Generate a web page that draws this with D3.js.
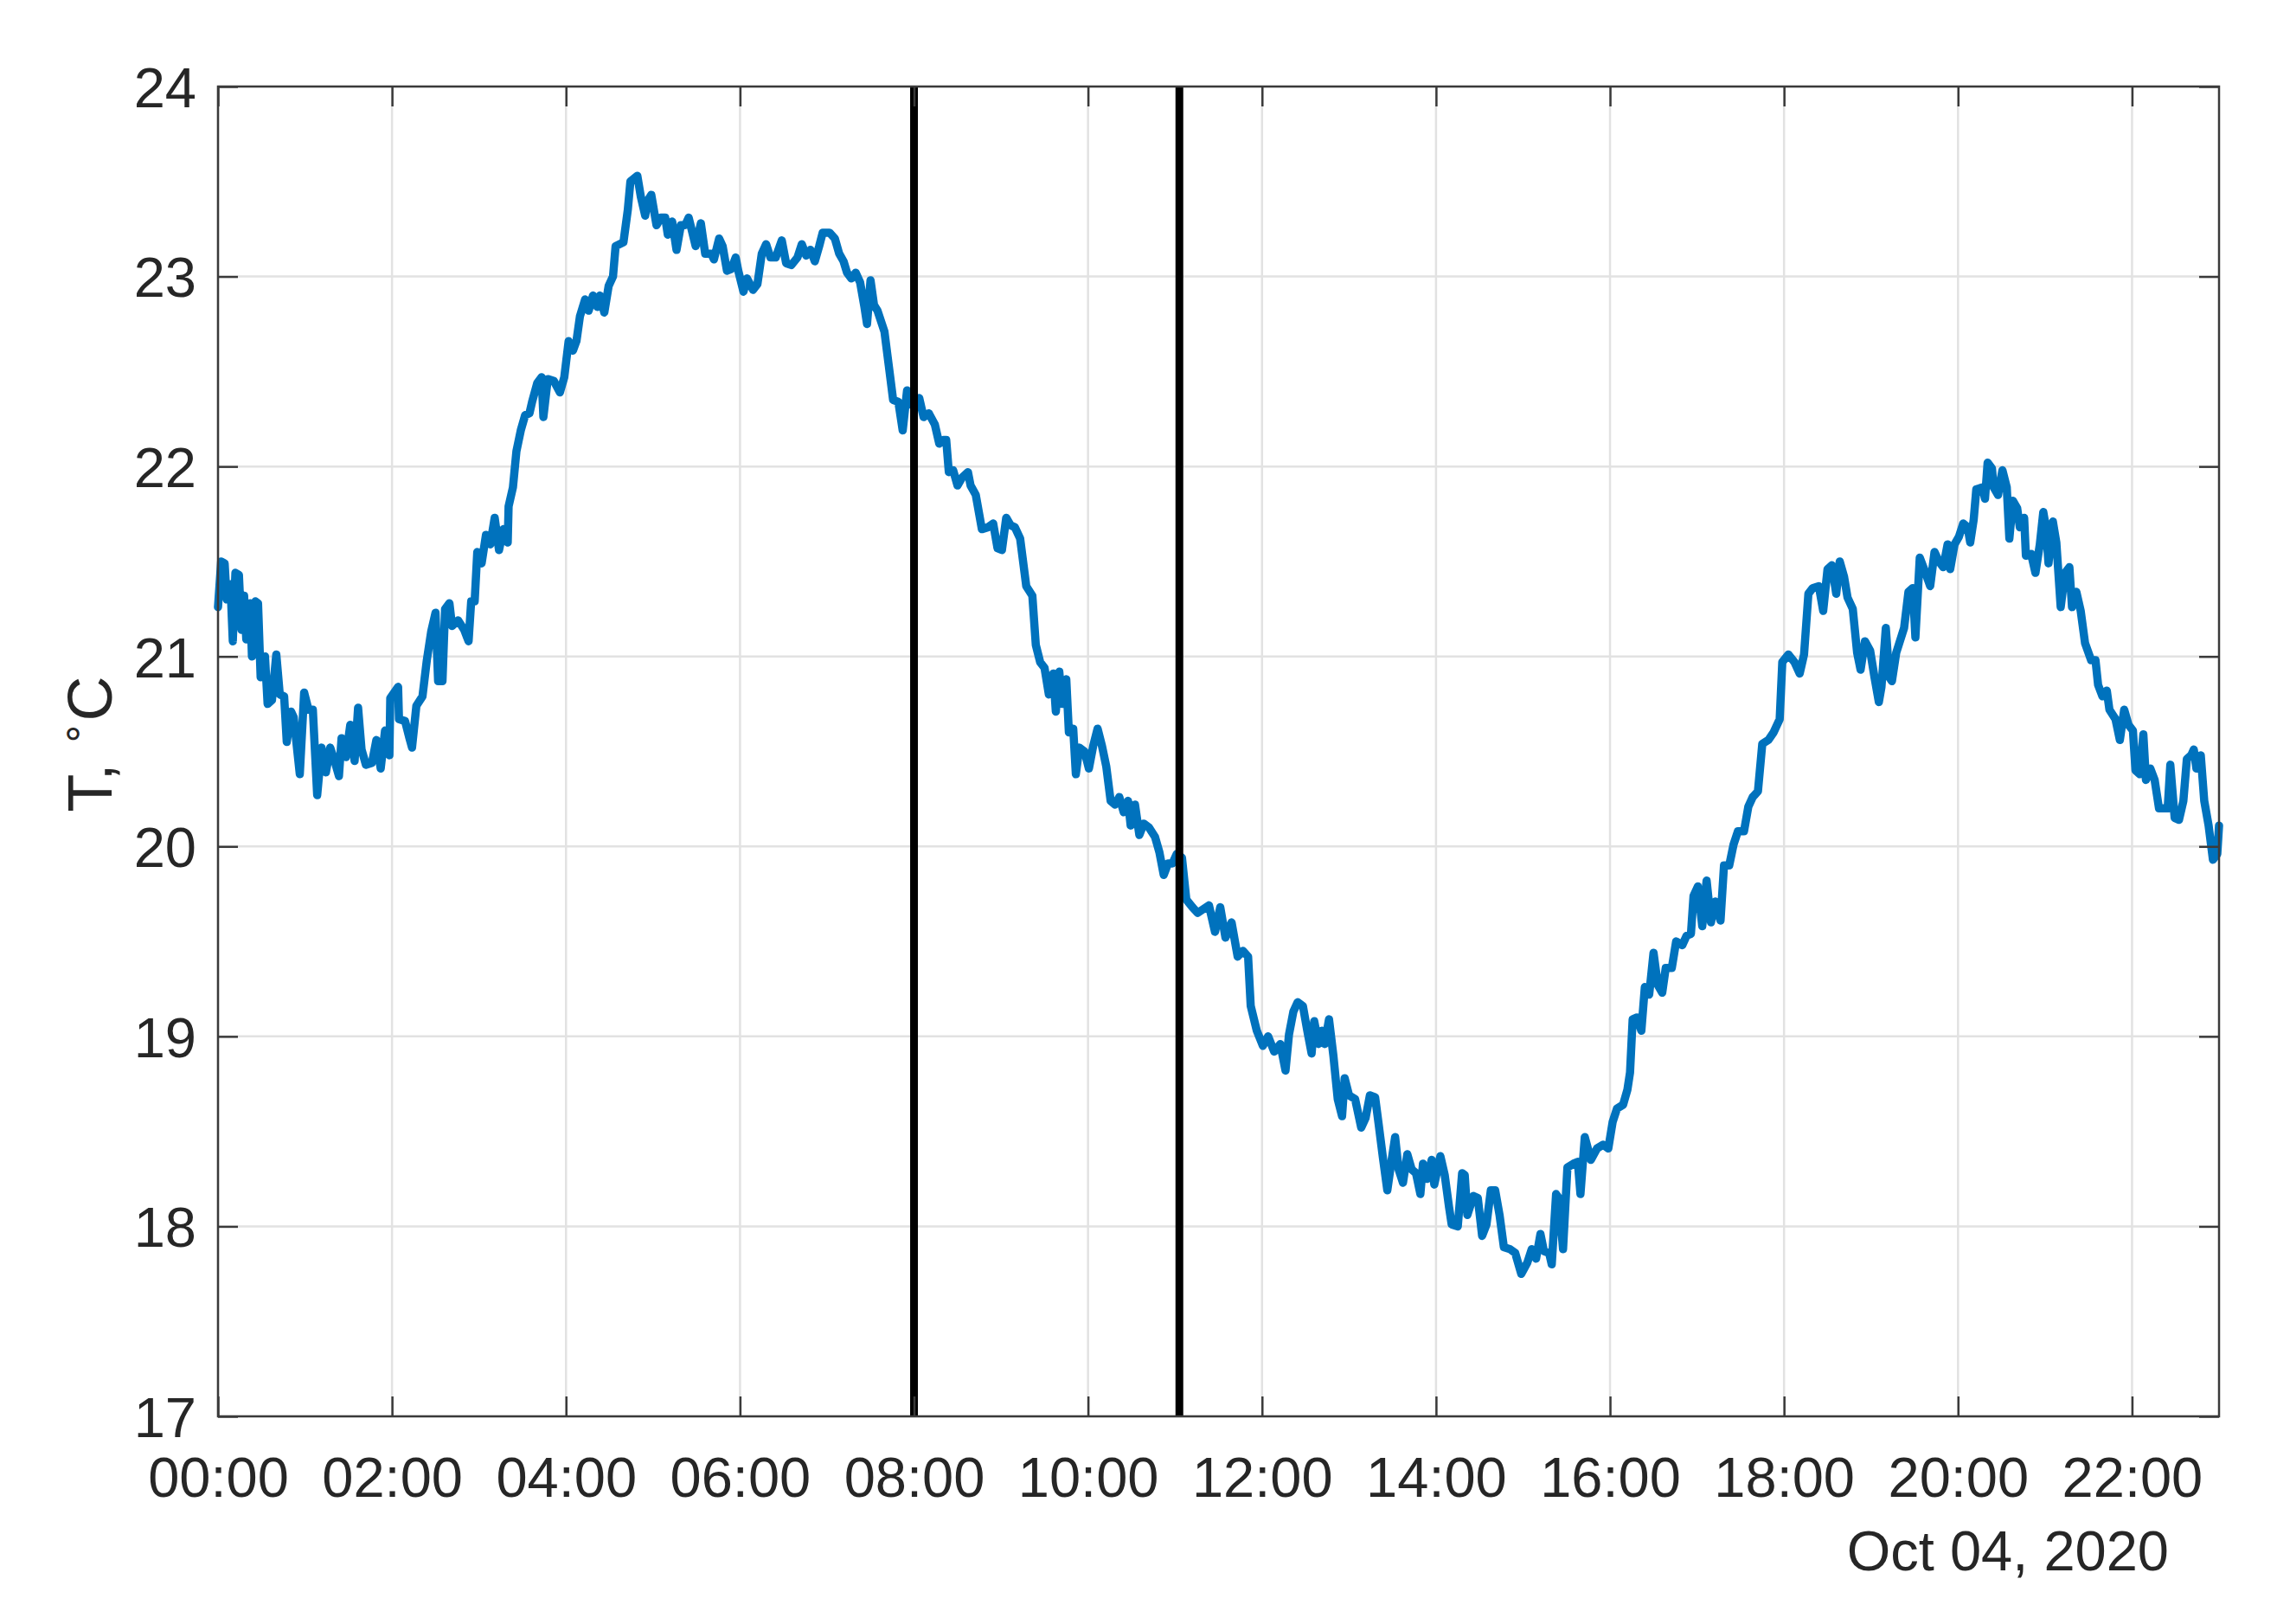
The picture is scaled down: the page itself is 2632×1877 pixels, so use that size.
<!DOCTYPE html>
<html lang="en">
<meta charset="utf-8">

<style>
body {
  margin: 0;
  background: #fff;
}
text {
  font-family: "Liberation Sans", Arial, Helvetica, sans-serif;
  fill: #262626;
}
.grid line {
  stroke: #e2e2e2;
  stroke-width: 2.5px;
}
.axis .domain {
  display: none;
}
.axis line {
  stroke: #3a3a3a;
  stroke-width: 2.5px;
}
.axis text {
  font-size: 65px;
}
</style>

<body>
<div id="chart"></div>

<script src="https://d3js.org/d3.v7.min.js"></script>
<script>

// time of each sample, hours after midnight (Oct 04, 2020)
var hours = [
  0.00, 0.036, 0.076, 0.10, 0.143, 0.17, 0.20, 0.24, 0.27, 0.30, 0.325, 0.37, 0.39, 0.43, 0.46, 0.49,
  0.54, 0.57, 0.62, 0.67, 0.71, 0.76, 0.79, 0.84, 0.87, 0.94, 0.99, 1.04, 1.09, 1.14, 1.19, 1.24,
  1.29, 1.34, 1.39, 1.42, 1.47, 1.52, 1.57, 1.61, 1.65, 1.70, 1.77, 1.82, 1.87, 1.92, 1.97, 1.98,
  2.07, 2.08, 2.15, 2.20, 2.23, 2.28, 2.35, 2.40, 2.45, 2.50, 2.53, 2.58, 2.61, 2.66, 2.69, 2.76,
  2.83, 2.88, 2.91, 2.95, 2.98, 3.03, 3.08, 3.13, 3.18, 3.23, 3.28, 3.33, 3.34, 3.39, 3.43, 3.48,
  3.53, 3.58, 3.61, 3.67, 3.72, 3.74, 3.79, 3.86,
  3.93, 3.98, 4.03, 4.08, 4.12, 4.16, 4.22, 4.26, 4.31, 4.36, 4.39, 4.44, 4.49, 4.54, 4.57, 4.66,
  4.71, 4.74, 4.82, 4.86, 4.91, 4.94, 4.98, 5.04, 5.09, 5.14, 5.17, 5.22, 5.27, 5.32, 5.37, 5.41,
  5.49, 5.55, 5.60, 5.67, 5.70, 5.76, 5.80, 5.85, 5.90, 5.95, 5.98, 6.04, 6.08, 6.15, 6.20, 6.25,
  6.30, 6.35, 6.41, 6.48, 6.53, 6.59, 6.66, 6.71, 6.76, 6.81, 6.86, 6.91, 6.95, 7.03, 7.09, 7.14,
  7.19, 7.23, 7.28, 7.33, 7.38, 7.43, 7.46, 7.50, 7.54, 7.58, 7.66, 7.71, 7.76, 7.82, 7.87, 7.92, 7.96,
  8.00, 8.06, 8.11, 8.17, 8.24, 8.29, 8.34, 8.37, 8.40, 8.45, 8.50, 8.55, 8.62, 8.65, 8.71, 8.78,
  8.85, 8.91, 8.96, 9.01, 9.06, 9.11, 9.16, 9.22, 9.29, 9.36, 9.40, 9.45, 9.50, 9.55, 9.60, 9.63,
  9.67, 9.70, 9.75, 9.78, 9.83, 9.86, 9.90, 9.96, 10.01, 10.06, 10.11, 10.16, 10.21, 10.26, 10.31, 10.36,
  10.41, 10.46, 10.49, 10.54, 10.59, 10.64, 10.70, 10.77, 10.82, 10.87, 10.92, 10.97, 11.02, 11.08, 11.13, 11.20,
  11.26, 11.39, 11.46, 11.52, 11.58, 11.65, 11.72, 11.78,
  11.84, 11.87, 11.94, 12.01, 12.07, 12.14, 12.21, 12.27, 12.31, 12.36, 12.41, 12.47, 12.52, 12.57, 12.60, 12.65,
  12.69, 12.72, 12.77, 12.82, 12.87, 12.92, 12.95, 13.00, 13.07, 13.14, 13.19, 13.24, 13.30, 13.34, 13.39, 13.44,
  13.49, 13.53, 13.57, 13.62, 13.67, 13.72, 13.77, 13.82, 13.85, 13.90, 13.95, 13.98, 14.05, 14.10, 14.15, 14.18,
  14.25, 14.30, 14.33, 14.36, 14.43, 14.48, 14.53, 14.58, 14.63, 14.68, 14.73, 14.78, 14.85, 14.91, 14.98, 15.05,
  15.10, 15.15, 15.20, 15.24, 15.30, 15.33, 15.38, 15.41, 15.46, 15.51, 15.58, 15.63, 15.66, 15.71, 15.78,
  15.85, 15.92, 15.98, 16.03, 16.08, 16.15, 16.20, 16.23, 16.26, 16.31, 16.36, 16.40, 16.45, 16.50, 16.55, 16.60,
  16.64, 16.71, 16.76, 16.83, 16.88, 16.93, 16.96, 17.01, 17.06, 17.11, 17.16, 17.21, 17.27, 17.31, 17.37, 17.42,
  17.47, 17.54, 17.59, 17.64, 17.70, 17.75, 17.82, 17.88, 17.95, 17.98, 18.05, 18.12, 18.18, 18.23, 18.28, 18.33,
  18.40, 18.45, 18.50, 18.55, 18.60, 18.64, 18.69, 18.73, 18.79, 18.84, 18.88, 18.93, 18.99, 19.04, 19.09, 19.12,
  19.17, 19.21, 19.24, 19.29,
  19.38, 19.43, 19.48, 19.51, 19.56, 19.61, 19.68, 19.73, 19.78, 19.83, 19.88, 19.91, 19.96, 20.01, 20.06, 20.11,
  20.14, 20.18, 20.21, 20.28, 20.31, 20.34, 20.39, 20.41, 20.46, 20.51, 20.56, 20.59, 20.63, 20.68, 20.71, 20.76,
  20.78, 20.84, 20.89, 20.94, 20.98, 21.01, 21.04, 21.09, 21.13, 21.18, 21.23, 21.28, 21.31, 21.36, 21.41, 21.46,
  21.53, 21.58, 21.61, 21.66, 21.71, 21.74, 21.81, 21.86, 21.91, 21.96, 22.01, 22.04, 22.09, 22.13, 22.16, 22.21,
  22.26, 22.31, 22.36, 22.41, 22.44, 22.49, 22.54, 22.59, 22.63, 22.68, 22.71, 22.74, 22.79, 22.83, 22.88, 22.93,
  22.98, 23.00
];

// temperature, deg C
var temps = [
  21.26, 21.50, 21.49, 21.30, 21.38, 21.08, 21.44, 21.43, 21.14, 21.32, 21.09, 21.28, 21.00, 21.29, 21.28, 20.89,
  21.00, 20.75, 20.77, 21.01, 20.80, 20.79, 20.55, 20.71, 20.68, 20.38, 20.81, 20.72, 20.72, 20.27, 20.52, 20.39,
  20.52, 20.45, 20.37, 20.57, 20.47, 20.64, 20.45, 20.73, 20.51, 20.43, 20.44, 20.56, 20.41, 20.61, 20.48, 20.78,
  20.84, 20.67, 20.66, 20.57, 20.52, 20.74, 20.79, 20.98, 21.13, 21.23, 20.87, 20.87, 21.25, 21.28, 21.16, 21.19,
  21.14, 21.08, 21.29, 21.29, 21.55, 21.49, 21.64, 21.59, 21.73, 21.56, 21.67, 21.60, 21.79, 21.89, 22.08, 22.19,
  22.27, 22.28, 22.34, 22.44, 22.47, 22.26, 22.46, 22.45,
  22.39, 22.47, 22.66, 22.61, 22.66, 22.79, 22.88, 22.82, 22.90, 22.84, 22.90, 22.81, 22.95, 23.00, 23.16, 23.18,
  23.35, 23.50, 23.53, 23.42, 23.32, 23.40, 23.43, 23.27, 23.31, 23.31, 23.22, 23.29, 23.14, 23.27, 23.27, 23.31,
  23.16, 23.28, 23.12, 23.12, 23.09, 23.20, 23.16, 23.03, 23.04, 23.10, 23.03, 22.92, 22.99, 22.93, 22.96, 23.12,
  23.17, 23.10, 23.10, 23.19, 23.07, 23.06, 23.10, 23.17, 23.11, 23.14, 23.08, 23.16, 23.23, 23.23, 23.20, 23.12,
  23.08, 23.02, 22.99, 23.02, 22.97, 22.84, 22.75, 22.98, 22.85, 22.82, 22.71, 22.53, 22.35, 22.34, 22.19, 22.40, 22.34,
  22.31, 22.36, 22.26, 22.28, 22.22, 22.12, 22.14, 22.14, 21.97, 21.98, 21.90, 21.94, 21.97, 21.90, 21.85, 21.67,
  21.68, 21.70, 21.57, 21.56, 21.73, 21.69, 21.68, 21.62, 21.37, 21.32, 21.06, 20.97, 20.94, 20.80, 20.91, 20.71,
  20.92, 20.75, 20.88, 20.60, 20.62, 20.38, 20.52, 20.50, 20.41, 20.53, 20.62, 20.53, 20.42, 20.24, 20.22, 20.26,
  20.18, 20.24, 20.11, 20.22, 20.06, 20.12, 20.10, 20.05, 19.97, 19.85, 19.91, 19.91, 19.96, 19.94, 19.72, 19.68,
  19.65, 19.69, 19.55, 19.68, 19.52, 19.60, 19.42, 19.45,
  19.42, 19.16, 19.03, 18.95, 19.00, 18.92, 18.96, 18.82, 19.01, 19.13, 19.18, 19.16, 19.03, 18.91, 19.08, 18.96,
  19.03, 18.96, 19.09, 18.90, 18.67, 18.58, 18.78, 18.69, 18.67, 18.52, 18.57, 18.69, 18.68, 18.54, 18.36, 18.19,
  18.35, 18.47, 18.30, 18.23, 18.38, 18.30, 18.28, 18.17, 18.33, 18.25, 18.35, 18.22, 18.37, 18.27, 18.10, 18.01,
  18.00, 18.28, 18.27, 18.06, 18.16, 18.15, 17.95, 18.01, 18.19, 18.19, 18.06, 17.89, 17.88, 17.86, 17.75, 17.81,
  17.88, 17.83, 17.96, 17.87, 17.86, 17.80, 18.17, 18.15, 17.88, 18.31, 18.33, 18.34, 18.17, 18.47, 18.35,
  18.41, 18.43, 18.41, 18.55, 18.62, 18.64, 18.72, 18.81, 19.09, 19.10, 19.03, 19.26, 19.22, 19.44, 19.27, 19.23,
  19.36, 19.36, 19.50, 19.48, 19.53, 19.54, 19.74, 19.79, 19.58, 19.82, 19.60, 19.71, 19.61, 19.90, 19.90, 20.01,
  20.08, 20.08, 20.21, 20.26, 20.29, 20.54, 20.56, 20.60, 20.67, 20.97, 21.01, 20.97, 20.91, 21.01, 21.33, 21.36,
  21.37, 21.24, 21.46, 21.48, 21.33, 21.50, 21.42, 21.31, 21.25, 21.02, 20.93, 21.08, 21.03, 20.89, 20.76, 20.84,
  21.15, 20.89, 20.87, 21.02,
  21.15, 21.34, 21.36, 21.10, 21.52, 21.46, 21.37, 21.55, 21.50, 21.47, 21.59, 21.46, 21.59, 21.63, 21.70, 21.68,
  21.60, 21.72, 21.88, 21.89, 21.83, 22.02, 21.99, 21.89, 21.85, 21.98, 21.89, 21.62, 21.82, 21.78, 21.68, 21.73,
  21.53, 21.54, 21.44, 21.59, 21.76, 21.68, 21.49, 21.71, 21.60, 21.26, 21.44, 21.47, 21.26, 21.34, 21.24, 21.07,
  20.98, 20.98, 20.85, 20.79, 20.82, 20.72, 20.67, 20.56, 20.72, 20.64, 20.61, 20.40, 20.38, 20.59, 20.35, 20.41,
  20.35, 20.20, 20.20, 20.20, 20.43, 20.15, 20.14, 20.24, 20.46, 20.48, 20.51, 20.41, 20.48, 20.24, 20.11, 19.93,
  19.96, 20.11
];

// the two black marker lines, hours
var markerHours = [8.0, 11.05];

// y ticks
var yTicks = [17, 18, 19, 20, 21, 22, 23, 24];

var dayLabel = "Oct 04, 2020";

// size of the page and of the axes box
var width = 2632,
    height = 1877;
var box = {left: 252, right: 2565, top: 100, bottom: 1637};

var day0 = new Date(2020, 9, 4, 0, 0);
function toDate(h) {
  return new Date(day0.getTime() + h * 3600 * 1000);
}

var data = hours.map(function(h, i) {
  return {t: toDate(h), v: temps[i]};
});

var x = d3.scaleTime()
    .domain([day0, toDate(23)])
    .range([box.left, box.right]);

var y = d3.scaleLinear()
    .domain([17, 24])
    .range([box.bottom, box.top]);

var xTicks = x.ticks(d3.timeHour.every(2));

var svg = d3.select("#chart").append("svg")
    .attr("width", width)
    .attr("height", height);

// grid
var grid = svg.append("g").attr("class", "grid");
grid.selectAll(".gx")
    .data(xTicks)
  .enter().append("line")
    .attr("x1", function(d) { return x(d); })
    .attr("x2", function(d) { return x(d); })
    .attr("y1", box.top)
    .attr("y2", box.bottom);
grid.selectAll(".gy")
    .data(yTicks)
  .enter().append("line")
    .attr("x1", box.left)
    .attr("x2", box.right)
    .attr("y1", function(d) { return y(d); })
    .attr("y2", function(d) { return y(d); });

// temperature line
var line = d3.line()
    .x(function(d) { return x(d.t); })
    .y(function(d) { return y(d.v); });

svg.append("path")
    .datum(data)
    .attr("d", line)
    .attr("fill", "none")
    .attr("stroke", "#0072BD")
    .attr("stroke-width", 9.5)
    .attr("stroke-linejoin", "round")
    .attr("stroke-linecap", "round");

// black vertical markers
svg.selectAll(".marker")
    .data(markerHours)
  .enter().append("line")
    .attr("class", "marker")
    .attr("x1", function(d) { return x(toDate(d)); })
    .attr("x2", function(d) { return x(toDate(d)); })
    .attr("y1", y(24))
    .attr("y2", y(17))
    .attr("stroke", "#000")
    .attr("stroke-width", 9);

// axes, ticks pointing inward
svg.append("g")
    .attr("class", "axis")
    .attr("transform", "translate(0," + box.bottom + ")")
    .call(d3.axisBottom(x)
      .tickValues(xTicks)
      .tickFormat(d3.timeFormat("%H:%M"))
      .tickSizeInner(-23)
      .tickSizeOuter(0)
      .tickPadding(47));

svg.append("g")
    .attr("class", "axis")
    .attr("transform", "translate(0," + box.top + ")")
    .call(d3.axisTop(x)
      .tickValues(xTicks)
      .tickFormat("")
      .tickSizeInner(-23)
      .tickSizeOuter(0));

svg.append("g")
    .attr("class", "axis")
    .attr("transform", "translate(" + box.left + ",0)")
    .call(d3.axisLeft(y)
      .tickValues(yTicks)
      .tickFormat(d3.format("d"))
      .tickSizeInner(-23)
      .tickSizeOuter(0)
      .tickPadding(25))
  .selectAll("text")
    .attr("dy", "0.36em");

svg.append("g")
    .attr("class", "axis")
    .attr("transform", "translate(" + box.right + ",0)")
    .call(d3.axisRight(y)
      .tickValues(yTicks)
      .tickFormat("")
      .tickSizeInner(-23)
      .tickSizeOuter(0));

// box
svg.append("rect")
    .attr("x", box.left)
    .attr("y", box.top)
    .attr("width", box.right - box.left)
    .attr("height", box.bottom - box.top)
    .attr("fill", "none")
    .attr("stroke", "#3a3a3a")
    .attr("stroke-width", 2.5);

// date under the time axis
svg.append("text")
    .attr("x", 2507)
    .attr("y", 1815)
    .attr("text-anchor", "end")
    .style("font-size", "65px")
    .text(dayLabel);

// y label: T, ^\circ C
var ylab = svg.append("text")
    .attr("transform", "translate(129,860) rotate(-90)")
    .attr("text-anchor", "middle")
    .style("font-size", "72px")
    .style("white-space", "pre");
ylab.append("tspan").text("T, ");
ylab.append("tspan")
    .attr("dy", -30)
    .style("font-size", "46px")
    .style("font-family", "DejaVu Sans")
    .text("\u2218");
ylab.append("tspan")
    .attr("dy", 30)
    .text("C");

</script>
</body>
</html>
